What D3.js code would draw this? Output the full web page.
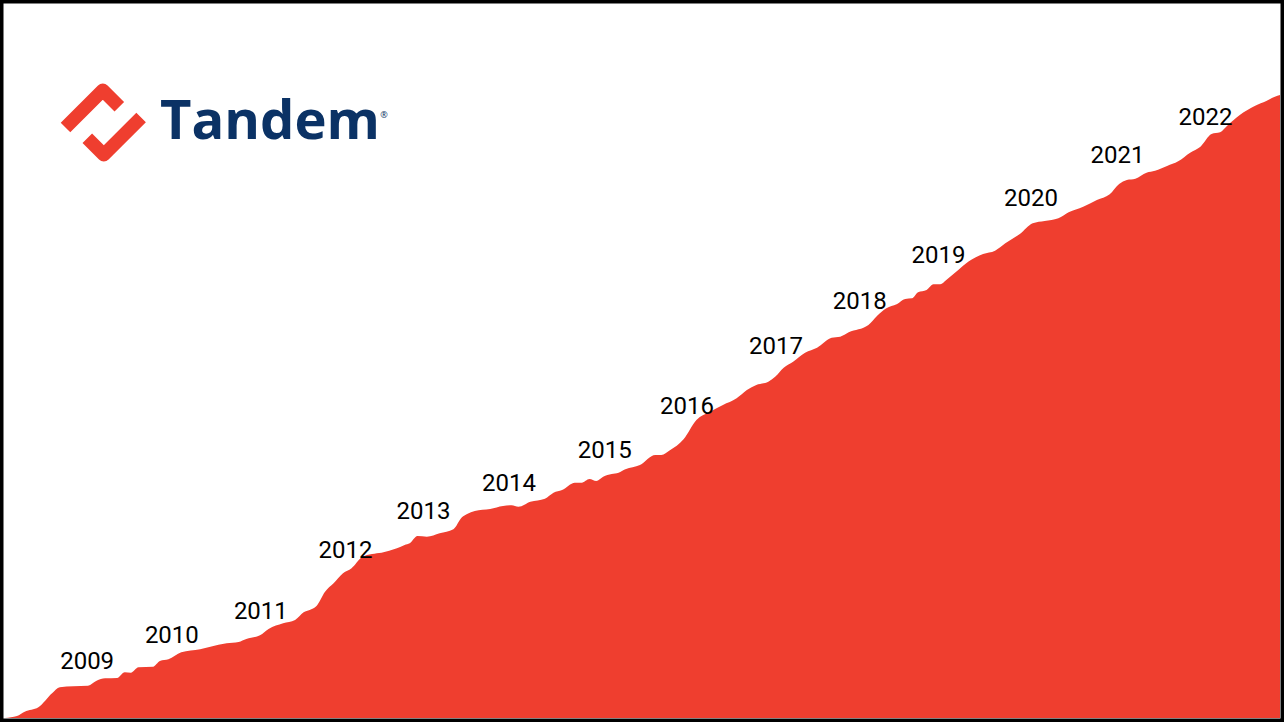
<!DOCTYPE html>
<html lang="en">
<head>
<meta charset="UTF-8">
<script src="https://d3js.org/d3.v7.min.js"></script>
<style>
  html, body { margin: 0; padding: 0; background: #fff; }
  svg { display: block; }
</style>
</head>
<body>
<div id="chart"></div>
<script>
// cumulative growth (x in decimal years, y in index units)
const years = [
  2008.00, 2008.14, 2008.23, 2008.39, 2008.55, 2008.64, 2008.80, 2008.97, 2009.07, 2009.17,
  2009.31, 2009.40, 2009.47, 2009.56, 2009.73, 2009.81, 2009.91, 2010.06, 2010.28, 2010.40,
  2010.59, 2010.73, 2010.82, 2010.98, 2011.08, 2011.25, 2011.39, 2011.49, 2011.56, 2011.64,
  2011.74, 2011.84, 2011.95, 2012.05, 2012.17, 2012.29, 2012.40, 2012.58, 2012.67, 2012.73,
  2012.82, 2012.93, 2013.08, 2013.24, 2013.34, 2013.40, 2013.49, 2013.67, 2013.82, 2013.92,
  2014.00, 2014.14, 2014.31, 2014.41, 2014.51, 2014.66, 2014.74, 2014.83, 2014.91, 2014.99,
  2015.09, 2015.17, 2015.25, 2015.42, 2015.60, 2015.67, 2015.77, 2015.93, 2016.08, 2016.24,
  2016.39, 2016.55, 2016.67, 2016.78, 2016.92, 2017.00, 2017.10, 2017.21, 2017.35, 2017.49,
  2017.66, 2017.76, 2017.86, 2018.09, 2018.19, 2018.30, 2018.42, 2018.52, 2018.60, 2018.67,
  2018.77, 2018.85, 2018.93, 2019.00, 2019.14, 2019.26, 2019.43, 2019.57, 2019.69, 2019.86,
  2020.01, 2020.15, 2020.31, 2020.43, 2020.60, 2020.76, 2020.91, 2021.02, 2021.11, 2021.21,
  2021.34, 2021.44, 2021.58, 2021.71, 2021.85, 2021.97, 2022.10, 2022.20, 2022.28, 2022.43,
  2022.61, 2022.74, 2022.84, 2022.90
];
const values = [
  0, 2, 6.3, 10.7, 24.7, 30.7, 31.7, 32.3, 37.3, 39.7,
  40, 45.7, 45.3, 50.7, 51.3, 57, 58.7, 65.7, 68.7, 71.3,
  74.7, 76, 79, 82.7, 89, 94.7, 98, 105.7, 108, 112,
  126.3, 134.7, 144.7, 149.7, 160.7, 164, 165.3, 169.7, 173, 174.7,
  182, 181.3, 184.7, 188.7, 200.7, 204, 207, 209, 212, 212.7,
  211.3, 216.3, 219.3, 225.3, 228, 235.3, 235.3, 239, 237, 241.3,
  244, 245.3, 248.7, 253, 263, 263, 267.7, 278.7, 298, 306.3,
  313, 319.7, 328, 333, 336.3, 341.3, 350.3, 356.3, 365.3, 370.3,
  380.3, 381.3, 385.7, 393, 402, 409.7, 413.7, 419, 419.7, 425.7,
  428, 433.7, 433.7, 438, 448, 456.5, 464, 467.3, 474.7, 484,
  494.7, 497, 499.7, 505.7, 511.3, 518, 523.7, 534, 538, 539.3,
  545.3, 547.3, 552, 556.7, 565.3, 571.3, 584, 585.7, 592, 603,
  612.3, 617, 621.3, 623
];

// year annotations: label text, where along the time axis it sits, and the value level of its baseline
const labelYears  = [2009, 2010, 2011, 2012, 2013, 2014, 2015, 2016, 2017, 2018, 2019, 2020, 2021, 2022];
const labelAt     = [2008.96, 2009.95, 2010.99, 2011.98, 2012.89, 2013.89, 2015.01,
                     2015.97, 2017.01, 2017.99, 2018.91, 2019.99, 2021.00, 2022.03];
const labelValues = [49, 75, 99, 160, 199, 227, 260, 304, 364, 409, 455, 512, 555, 593];

const W = 1284, H = 722;
const RED = "#ef3e2f", NAVY = "#0b3265";

const svg = d3.select("#chart").append("svg")
  .attr("width", W)
  .attr("height", H);

svg.append("rect").attr("width", W).attr("height", H).attr("fill", "#fff");

const x = d3.scaleLinear().domain([2008, 2022.9]).range([5, 1280]);
const y = d3.scaleLinear().domain([0, 623]).range([718, 95]);

const data = years.map((yr, i) => ({ yr, v: values[i] }));

const area = d3.area()
  .x(d => x(d.yr))
  .y0(y(0))
  .y1(d => y(d.v))
  .curve(d3.curveMonotoneX);

svg.append("path")
  .datum(data)
  .attr("d", area)
  .attr("fill", RED);

// year labels
svg.append("g")
  .selectAll("text")
  .data(labelYears)
  .join("text")
  .attr("x", (d, i) => x(labelAt[i]))
  .attr("y", (d, i) => y(labelValues[i]))
  .attr("text-anchor", "middle")
  .attr("font-family", "Roboto, sans-serif")
  .attr("font-size", 24)
  .attr("fill", "#000")
  .text(d => d);

// logo
const logo = svg.append("g");
const icon = logo.append("g")
  .attr("fill", "none")
  .attr("stroke", RED)
  .attr("stroke-width", 13.5)
  .attr("stroke-linejoin", "round")
  .attr("stroke-linecap", "butt");
icon.append("path").attr("d", "M65.5,127.5 L102.8,90.2 L119.3,106.7");
icon.append("path").attr("d", "M141.1,117.5 L103.8,154.8 L87.3,138.3");

logo.append("text")
  .attr("x", 160)
  .attr("y", 138.5)
  .attr("font-family", "'Open Sans', sans-serif")
  .attr("font-weight", 700)
  .attr("font-size", 54)
  .attr("textLength", 220)
  .attr("lengthAdjust", "spacingAndGlyphs")
  .attr("fill", NAVY)
  .text("Tandem");

logo.append("text")
  .attr("x", 384)
  .attr("y", 118)
  .attr("text-anchor", "middle")
  .attr("font-family", "'Open Sans', sans-serif")
  .attr("font-size", 9)
  .attr("fill", NAVY)
  .text("®");

// frame
svg.append("rect")
  .attr("x", 1.75).attr("y", 1.75)
  .attr("width", W - 3.5).attr("height", H - 3.5)
  .attr("fill", "none")
  .attr("stroke", "#000")
  .attr("stroke-width", 3.5);
</script>
</body>
</html>
